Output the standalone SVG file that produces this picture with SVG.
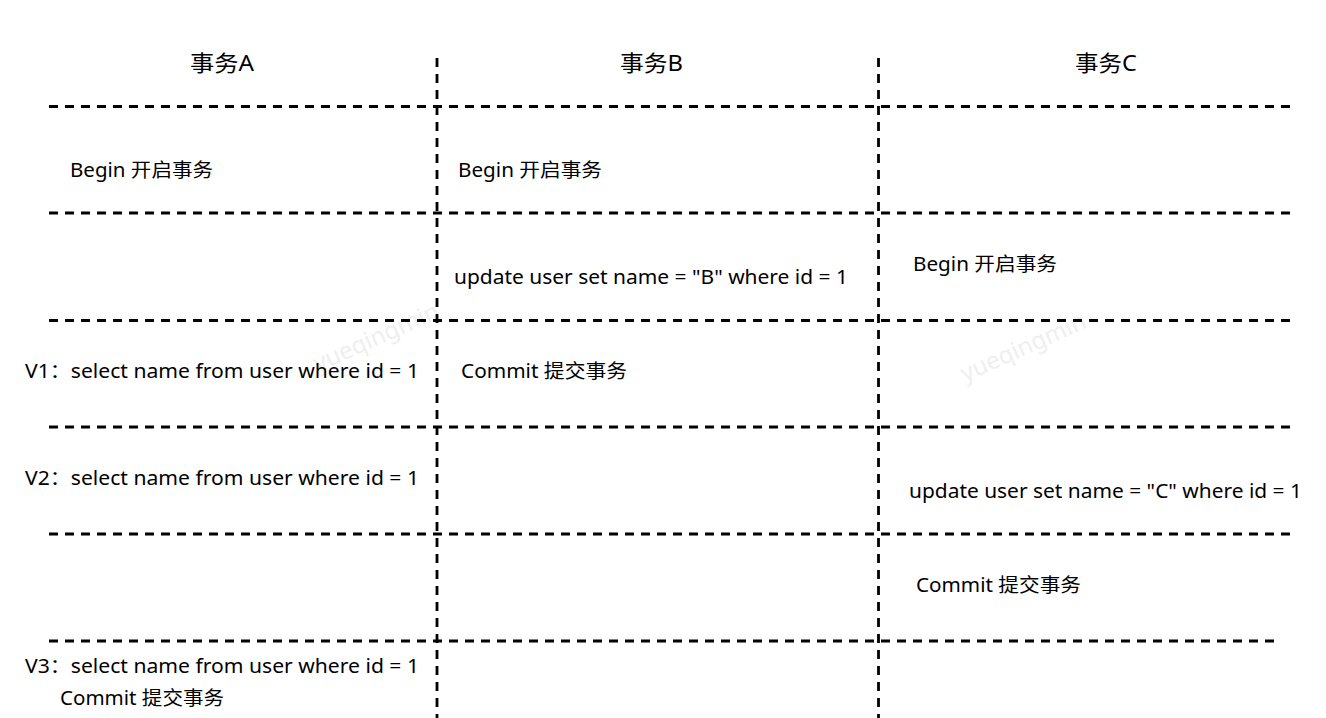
<svg xmlns="http://www.w3.org/2000/svg" width="1326" height="718" viewBox="0 0 1326 718">
<style>
.grid line{stroke:#000;stroke-width:2.8;stroke-dasharray:9 7;fill:none}
text{font-family:"Noto Sans","Noto Sans CJK SC",sans-serif;fill:#000}
.h{font-size:22px}
.t{font-size:19px}
.wm{font-size:24px;fill:#efefef;font-family:"Noto Sans",sans-serif}
</style>
<rect width="1326" height="718" fill="#fff"/>
<g id="watermarks">
<text class="wm" transform="translate(318,372) rotate(-24)">yueqingmin</text>
<text class="wm" transform="translate(965,382) rotate(-24)">yueqingmin</text>
</g>
<g id="connectors" class="grid">
<line x1="49" y1="106.5" x2="1295" y2="106.5"/>
<line x1="49" y1="213" x2="1295" y2="213"/>
<line x1="49" y1="320.5" x2="1295" y2="320.5"/>
<line x1="49" y1="427" x2="1295" y2="427"/>
<line x1="49" y1="534" x2="1295" y2="534"/>
<line x1="49" y1="641" x2="1278" y2="641"/>
<line x1="437" y1="58" x2="437" y2="718"/>
<line x1="878.5" y1="58" x2="878.5" y2="718"/>
</g>
<g id="header-A"><text class="h" x="190" y="71" textLength="64" lengthAdjust="spacingAndGlyphs">事务A</text></g>
<g id="header-B"><text class="h" x="620" y="71" textLength="63" lengthAdjust="spacingAndGlyphs">事务B</text></g>
<g id="header-C"><text class="h" x="1075" y="71" textLength="62" lengthAdjust="spacingAndGlyphs">事务C</text></g>
<g id="A-begin"><text class="t" x="70" y="177" textLength="143" lengthAdjust="spacingAndGlyphs">Begin 开启事务</text></g>
<g id="B-begin"><text class="t" x="458" y="177" textLength="144" lengthAdjust="spacingAndGlyphs">Begin 开启事务</text></g>
<g id="B-update"><text class="t" x="454" y="284" textLength="394" lengthAdjust="spacingAndGlyphs">update user set name = "B" where id = 1</text></g>
<g id="C-begin"><text class="t" x="913" y="271" textLength="144" lengthAdjust="spacingAndGlyphs">Begin 开启事务</text></g>
<g id="A-v1"><text class="t" x="25" y="378" textLength="394" lengthAdjust="spacingAndGlyphs">V1：select name from user where id = 1</text></g>
<g id="B-commit"><text class="t" x="461" y="378" textLength="166" lengthAdjust="spacingAndGlyphs">Commit 提交事务</text></g>
<g id="A-v2"><text class="t" x="25" y="485" textLength="394" lengthAdjust="spacingAndGlyphs">V2：select name from user where id = 1</text></g>
<g id="C-update"><text class="t" x="909" y="498" textLength="393" lengthAdjust="spacingAndGlyphs">update user set name = "C" where id = 1</text></g>
<g id="C-commit"><text class="t" x="916" y="592" textLength="165" lengthAdjust="spacingAndGlyphs">Commit 提交事务</text></g>
<g id="A-v3"><text class="t" x="25" y="673" textLength="394" lengthAdjust="spacingAndGlyphs">V3：select name from user where id = 1</text></g>
<g id="A-commit"><text class="t" x="60" y="705" textLength="164" lengthAdjust="spacingAndGlyphs">Commit 提交事务</text></g>
</svg>
